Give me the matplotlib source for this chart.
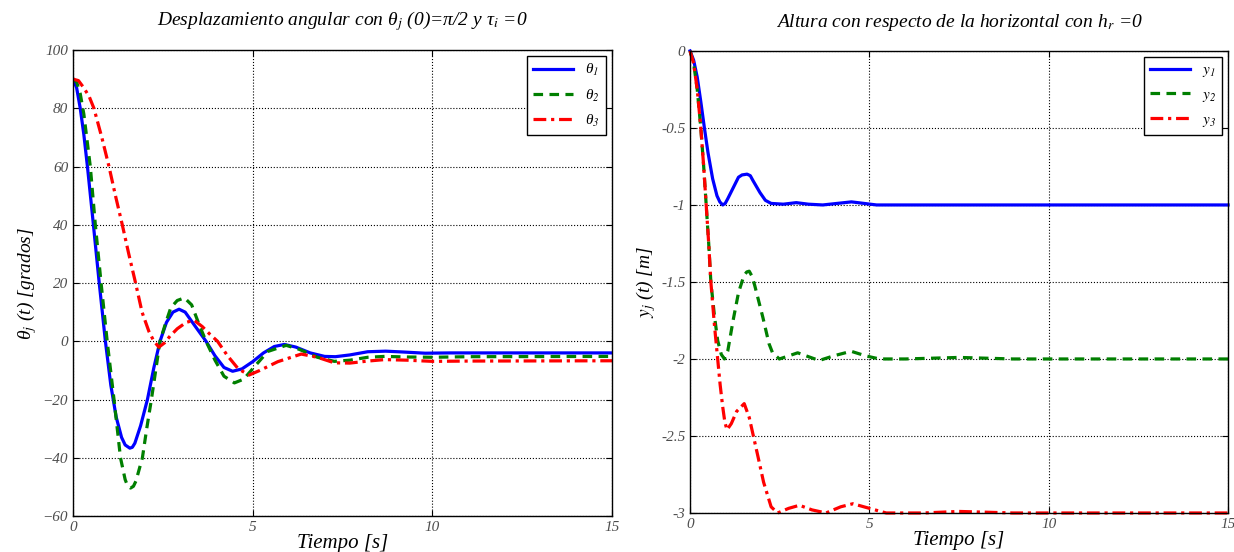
import matplotlib
matplotlib.use("Agg")
import matplotlib.pyplot as plt

plt.rcParams['font.family'] = ['Liberation Serif', 'DejaVu Serif']
plt.rcParams['font.style'] = 'italic'
plt.rcParams['mathtext.fontset'] = 'stix'

# Desplazamiento angular (grados)
t_th1 = [0.00, 0.10, 0.20, 0.30, 0.40, 0.55, 0.72, 0.90, 1.05, 1.20, 1.35, 1.45, 1.58,
         1.65, 1.72, 1.88, 2.07, 2.25, 2.42, 2.60, 2.78, 2.95, 3.12, 3.35, 3.70, 3.95, 4.20,
         4.44, 4.70, 5.00, 5.30, 5.60, 5.88, 6.20, 6.60, 7.00, 7.30, 7.70, 8.20, 8.70,
         9.20, 9.80, 10.5, 11.5, 15.0]
th1 = [90, 87, 80, 71, 60, 42, 21, 0, -15, -26, -33, -35.6, -36.7,
       -36.4, -35, -29, -20, -9, 0, 6.5, 10, 11, 10, 6, 0, -5, -9,
       -10.3, -9.5, -7, -4, -1.8, -1.1, -2, -4, -5.2, -5.3, -4.7, -3.6, -3.4,
       -3.7, -4.1, -4.0, -4.0, -4.0]

t_th2 = [0.00, 0.10, 0.20, 0.30, 0.40, 0.48, 0.62, 0.78, 0.95, 1.14, 1.32, 1.45, 1.52, 1.60,
         1.68, 1.75, 1.93, 2.05, 2.18, 2.30, 2.42, 2.57, 2.72, 2.90, 3.10, 3.30, 3.50, 3.70,
         3.95, 4.20, 4.49, 4.75, 5.10, 5.42, 5.93, 6.30, 6.80, 7.27, 7.70, 8.20, 8.67,
         9.30, 10.0, 11.0, 15.0]
th2 = [90, 89, 85, 78, 68, 60, 40, 20, 0, -20, -40, -47.5, -49.7, -50.4,
       -49.8, -48, -40, -30, -20, -10, 0, 6, 11.5, 14, 14.9, 12.5, 6, 0,
       -6.5, -12, -14.3, -13, -8, -3.5, -1.4, -2.8, -5.5, -6.9, -6.5, -5.5, -5.2,
       -5.4, -5.5, -5.3, -5.2]

t_th3 = [0.00, 0.15, 0.30, 0.45, 0.58, 0.80, 1.00, 1.18, 1.37, 1.55, 1.74, 1.92, 2.11,
         2.25, 2.39, 2.55, 2.70, 2.90, 3.15, 3.37, 3.60, 3.80, 4.02, 4.30, 4.60, 4.90,
         5.20, 5.70, 6.35, 6.80, 7.27, 7.70, 8.20, 8.67, 9.30, 10.0, 11.0, 15.0]
th3 = [90, 89.5, 87, 84, 80, 70, 60, 50, 40, 30, 20, 10, 3.4,
       0, -2, -0.5, 1.8, 4.3, 6.5, 7.2, 5, 2.5, 0, -5, -9.5, -11.6,
       -10, -7, -4.4, -5.5, -7.4, -7.5, -6.8, -6.3, -6.5, -6.9, -6.8, -6.7]

# Altura (m)
t_y1 = [0.00, 0.10, 0.20, 0.30, 0.40, 0.50, 0.63, 0.75, 0.83, 0.91, 0.98, 1.05, 1.20, 1.35,
        1.45, 1.59, 1.68, 1.75, 1.95, 2.10, 2.26, 2.60, 2.96, 3.30, 3.70, 4.10, 4.50, 4.85,
        5.20, 6.0, 15.0]
y1 = [0, -0.06, -0.17, -0.33, -0.50, -0.66, -0.83, -0.94, -0.98, -1.0, -0.99, -0.96, -0.89, -0.82,
      -0.805, -0.80, -0.81, -0.84, -0.92, -0.97, -0.99, -0.995, -0.985, -0.995, -1.0, -0.99, -0.98, -0.99,
      -1.0, -1.0, -1.0]

t_y2 = [0.00, 0.10, 0.20, 0.30, 0.38, 0.45, 0.52, 0.58, 0.68, 0.77, 0.87, 0.96, 1.05,
        1.20, 1.35, 1.50, 1.58, 1.65, 1.72, 1.80, 2.03, 2.20, 2.30, 2.49, 2.75, 3.00, 3.30, 3.60,
        4.00, 4.49, 4.90, 5.28, 6.0, 7.5, 9.0, 15.0]
y2 = [0, -0.08, -0.25, -0.50, -0.75, -1.0, -1.25, -1.5, -1.72, -1.88, -1.97, -2.0, -1.95,
      -1.75, -1.57, -1.46, -1.435, -1.43, -1.46, -1.52, -1.73, -1.90, -1.96, -2.0, -1.98, -1.96, -1.985, -2.01,
      -1.98, -1.95, -1.98, -2.0, -2.0, -1.99, -2.0, -2.0]

t_y3 = [0.00, 0.10, 0.20, 0.30, 0.38, 0.45, 0.52, 0.58, 0.68, 0.77, 0.84, 0.91, 0.97,
        1.03, 1.15, 1.30, 1.51, 1.65, 1.89, 2.05, 2.26, 2.44, 2.75, 3.05, 3.40, 3.79,
        4.20, 4.54, 5.00, 5.47, 6.5, 7.5, 9.0, 15.0]
y3 = [0, -0.08, -0.25, -0.50, -0.75, -1.0, -1.25, -1.5, -1.78, -2.0, -2.17, -2.31, -2.41,
      -2.46, -2.42, -2.34, -2.29, -2.38, -2.63, -2.80, -2.96, -3.0, -2.97, -2.95, -2.98, -3.0,
      -2.96, -2.94, -2.97, -3.0, -3.0, -2.99, -3.0, -3.0]

azul = '#0000ff'
verde = '#007f00'
rojo = '#ff0000'

fig = plt.figure(figsize=(12.34, 5.52), dpi=100)
ax1 = fig.add_axes([0.0592, 0.0652, 0.4368, 0.8442])
ax2 = fig.add_axes([0.5592, 0.0707, 0.4360, 0.8370])

ax1.plot(t_th1, th1, color=azul, lw=2.3, label='θ$_1$')
ax1.plot(t_th2, th2, color=verde, lw=2.3, ls=(0, (3, 2)), label='θ$_2$')
ax1.plot(t_th3, th3, color=rojo, lw=2.3, ls=(0, (4, 1.5, 1, 1.5)), label='θ$_3$')

ax2.plot(t_y1, y1, color=azul, lw=2.3, label='$y_1$', clip_on=False)
ax2.plot(t_y2, y2, color=verde, lw=2.3, ls=(0, (3, 2)), label='$y_2$', clip_on=False)
ax2.plot(t_y3, y3, color=rojo, lw=2.3, ls=(0, (4, 1.5, 1, 1.5)), label='$y_3$', clip_on=False)

ax1.set_xlim(0, 15)
ax1.set_ylim(-60, 100)
ax1.set_yticks(range(-60, 101, 20))
ax2.set_xlim(0, 15)
ax2.set_ylim(-3, 0)
ax2.set_yticks([-3, -2.5, -2, -1.5, -1, -0.5, 0])
ax2.set_yticklabels(['-3', '-2.5', '-2', '-1.5', '-1', '-0.5', '0'])

for ax in (ax1, ax2):
    ax.set_xticks([0, 5, 10, 15])
    ax.grid(True, color='black', ls=':', lw=0.8)
    ax.tick_params(direction='in', top=True, right=True, length=4, labelsize=11,
                   labelcolor='0.3')
    for lbl in ax.get_xticklabels() + ax.get_yticklabels():
        lbl.set_fontstyle('italic')
    for sp in ax.spines.values():
        sp.set_linewidth(1.0)
    ax.set_xlabel('Tiempo [s]', fontsize=15, labelpad=0)
    leg = ax.legend(loc='upper right', fontsize=11, fancybox=False, edgecolor='black',
                    framealpha=1, handlelength=2.6, borderaxespad=0.4, labelspacing=0.6)
    leg.get_frame().set_linewidth(1.0)

ax1.set_ylabel('θ$_j$ (t) [grados]', fontsize=14, labelpad=3)
ax2.set_ylabel('$y_j$ (t) [m]', fontsize=14, labelpad=2)

ax1.set_title('Desplazamiento angular con θ$_{j}$ (0)=π/2 y τ$_{i}$ =0', fontsize=14, pad=18)
ax2.set_title('Altura con respecto de la horizontal con h$_{r}$ =0', fontsize=14, pad=17)

plt.savefig('out.png', dpi=100)
